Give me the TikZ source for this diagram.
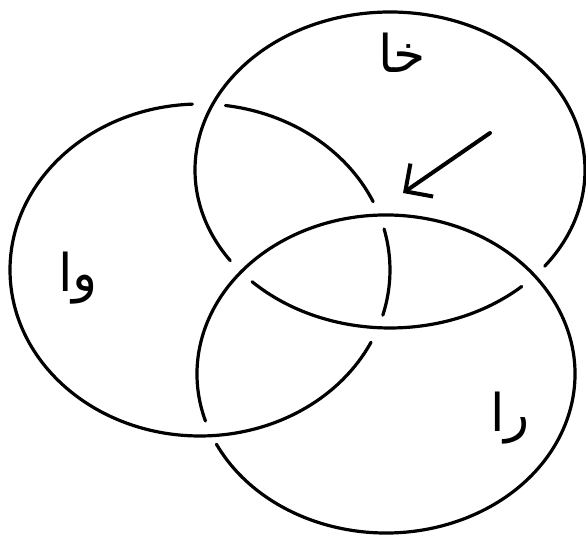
\documentclass[tikz,border=0pt]{standalone}
\usepackage{fontspec}
\usetikzlibrary{arrows.meta}
\newfontfamily\arabicfont[Script=Arabic]{DejaVu Sans}
\TeXXeTstate=1
\begin{document}
\begin{tikzpicture}[x=0.5pt,y=0.5pt,>=Straight Barb,
  ring/.style={line width=1.6pt,line cap=round},
  every node/.style={font=\arabicfont\fontsize{26pt}{30pt}\selectfont}]
\useasboundingbox (0,0) rectangle (586,536);
\coordinate (kc) at (390,366);
\coordinate (wc) at (200,266);
\coordinate (rc) at (386,162);
\draw[ring] (kc) ++(225:97.5pt and 79pt) arc[start angle=225,end angle=312.5,x radius=97.5pt,y radius=79pt];
\draw[ring] (kc) ++(322.5:97.5pt and 79pt) arc[start angle=322.5,end angle=575,x radius=97.5pt,y radius=79pt];
\draw[ring] (wc) ++(24.3:95pt and 83pt) arc[start angle=24.3,end angle=82.3,x radius=95pt,y radius=83pt];
\draw[ring] (wc) ++(92.3:95pt and 83pt) arc[start angle=92.3,end angle=334.2,x radius=95pt,y radius=83pt];
\draw[ring] (wc) ++(344.2:95pt and 83pt) arc[start angle=344.2,end angle=374.3,x radius=95pt,y radius=83pt];
\draw[ring] (rc) ++(206.2:94.5pt and 79.5pt) arc[start angle=206.2,end angle=557.2,x radius=94.5pt,y radius=79.5pt];
\node (kha) at (402,483) {\beginR خا\endR};
\node (waw) at (78,258) {\beginR وا\endR};
\node (ra) at (510,118) {\beginR را\endR};
\coordinate (tail) at (490,403);
\coordinate (tip) at (403,343);
\draw[line width=2pt,line cap=round,-{Straight Barb[length=10pt,width=20pt]}] (tail) -- (tip);
\end{tikzpicture}
\end{document}
